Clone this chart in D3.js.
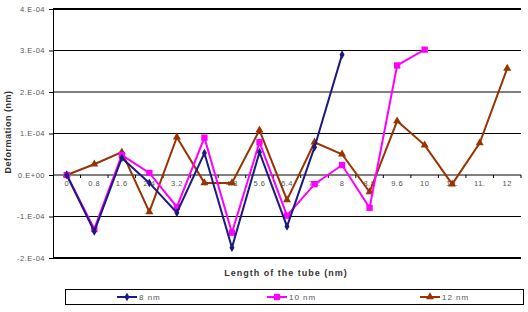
<!DOCTYPE html>
<html>
<head>
<meta charset="utf-8">
<script src="https://cdn.jsdelivr.net/npm/d3@7"></script>
<style>
  body { margin: 0; background: #fff; }
  svg { font-family: "Liberation Sans", Arial, sans-serif; }
</style>
</head>
<body>
<svg id="chart" width="528" height="312"></svg>
<script>
// categories along the tube (labels as printed on the chart)
var categories = ['0', '0.8', '1.6', '2.4', '3.2', '4', '4.8', '5.6', '6.4', '7.2',
                  '8', '8.8', '9.6', '10', '10.', '11.', '12'];

// deformation values, E-04 nm
var s8  = [0, -1.36, 0.41, -0.19, -0.91, 0.53, -1.75, 0.55, -1.24, 0.67, 2.9];
var s10 = [0, -1.3, 0.48, 0.05, -0.77, 0.9, -1.39, 0.79, -0.98, -0.22, 0.24, -0.79, 2.64, 3.02];
var s12 = [0, 0.26, 0.55, -0.89, 0.91, -0.19, -0.19, 1.08, -0.6, 0.79, 0.5, -0.41, 1.3, 0.72, -0.22, 0.77, 2.57];

var yTicks = [-2, -1, 0, 1, 2, 3, 4];
var yTickLabels = ['-2.E-04', '-1.E-04', '0.E+00', '1.E-04', '2.E-04', '3.E-04', '4.E-04'];

var seriesNames = ['8 nm', '10 nm', '12 nm'];
var seriesColors = ['#1a1a80', '#ff00ff', '#993300'];

var svg = d3.select('#chart');

var plotL = 53, plotR = 521, plotT = 9, plotB = 258;

var x = d3.scaleBand().domain(categories).range([plotL, plotR]);
var y = d3.scaleLinear().domain([-2, 4]).range([plotB, plotT]);

// gridlines
svg.append('g').selectAll('line')
    .data(yTicks)
    .enter().append('line')
    .attr('x1', plotL).attr('x2', plotR)
    .attr('y1', function(d) { return y(d); })
    .attr('y2', function(d) { return y(d); })
    .attr('stroke', '#000')
    .attr('stroke-width', function(d) { return (d === 4 || d === -2) ? 2 : 1; });

// y axis
var yAxis = svg.append('g')
    .attr('transform', 'translate(' + plotL + ',0)')
    .call(d3.axisLeft(y).tickValues(yTicks).tickSize(4).tickPadding(4)
        .tickFormat(function(d, i) { return yTickLabels[i]; }));
yAxis.select('.domain').attr('stroke', '#000');
yAxis.selectAll('text').attr('font-size', '7.5px').attr('letter-spacing', '0.5px').attr('fill', '#555');

// x axis at zero
var xAxis = svg.append('g')
    .attr('transform', 'translate(0,' + y(0) + ')')
    .call(d3.axisBottom(x).tickSize(0).tickPadding(6));
xAxis.select('.domain').remove();
xAxis.selectAll('text').attr('font-size', '7.5px').attr('letter-spacing', '0.5px').attr('fill', '#555');

// category boundary ticks
svg.append('g').selectAll('line')
    .data(categories)
    .enter().append('line')
    .attr('x1', function(d, i) { return plotL + x.step() * (i + 1); })
    .attr('x2', function(d, i) { return plotL + x.step() * (i + 1); })
    .attr('y1', y(0)).attr('y2', y(0) + 3)
    .attr('stroke', '#000');

// series
var allSeries = [s8, s10, s12];
var line = d3.line()
    .x(function(d, i) { return x(categories[i]) + x.bandwidth() / 2; })
    .y(function(d) { return y(d); });

var symbols = [d3.symbolDiamond, d3.symbolSquare, d3.symbolTriangle];
var symbolSizes = [22, 40, 28];

[2, 1, 0].forEach(function(k) {
    var g = svg.append('g');
    g.append('path')
        .datum(allSeries[k])
        .attr('d', line)
        .attr('fill', 'none')
        .attr('stroke', seriesColors[k])
        .attr('stroke-width', 2);
    g.selectAll('path.pt')
        .data(allSeries[k])
        .enter().append('path')
        .attr('class', 'pt')
        .attr('d', d3.symbol().type(symbols[k]).size(symbolSizes[k]))
        .attr('transform', function(d, i) {
            return 'translate(' + (x(categories[i]) + x.bandwidth() / 2) + ',' + y(d) + ')';
        })
        .attr('fill', seriesColors[k]);
});

// axis titles
svg.append('text')
    .attr('x', 286).attr('y', 276)
    .attr('text-anchor', 'middle')
    .attr('font-size', '9px')
    .attr('font-weight', 'bold')
    .attr('letter-spacing', '1px')
    .attr('fill', '#333')
    .text('Length of the tube (nm)');

svg.append('text')
    .attr('transform', 'translate(11,132) rotate(-90)')
    .attr('text-anchor', 'middle')
    .attr('font-size', '9px')
    .attr('font-weight', 'bold')
    .attr('letter-spacing', '0.5px')
    .attr('fill', '#333')
    .text('Deformation (nm)');

// legend
svg.append('rect')
    .attr('x', 65.5).attr('y', 289.5)
    .attr('width', 458).attr('height', 15)
    .attr('fill', 'none')
    .attr('stroke', '#000');

var legendX = [117, 267, 420];
seriesNames.forEach(function(name, k) {
    var g = svg.append('g').attr('transform', 'translate(' + legendX[k] + ',297)');
    g.append('line')
        .attr('x1', 0).attr('x2', 20)
        .attr('stroke', seriesColors[k])
        .attr('stroke-width', 2);
    g.append('path')
        .attr('d', d3.symbol().type(symbols[k]).size(symbolSizes[k]))
        .attr('transform', 'translate(10,0)')
        .attr('fill', seriesColors[k]);
    g.append('text')
        .attr('x', 22).attr('y', 3)
        .attr('font-size', '8px')
        .attr('letter-spacing', '1px')
        .attr('fill', '#555')
        .text(name);
});
</script>
</body>
</html>
